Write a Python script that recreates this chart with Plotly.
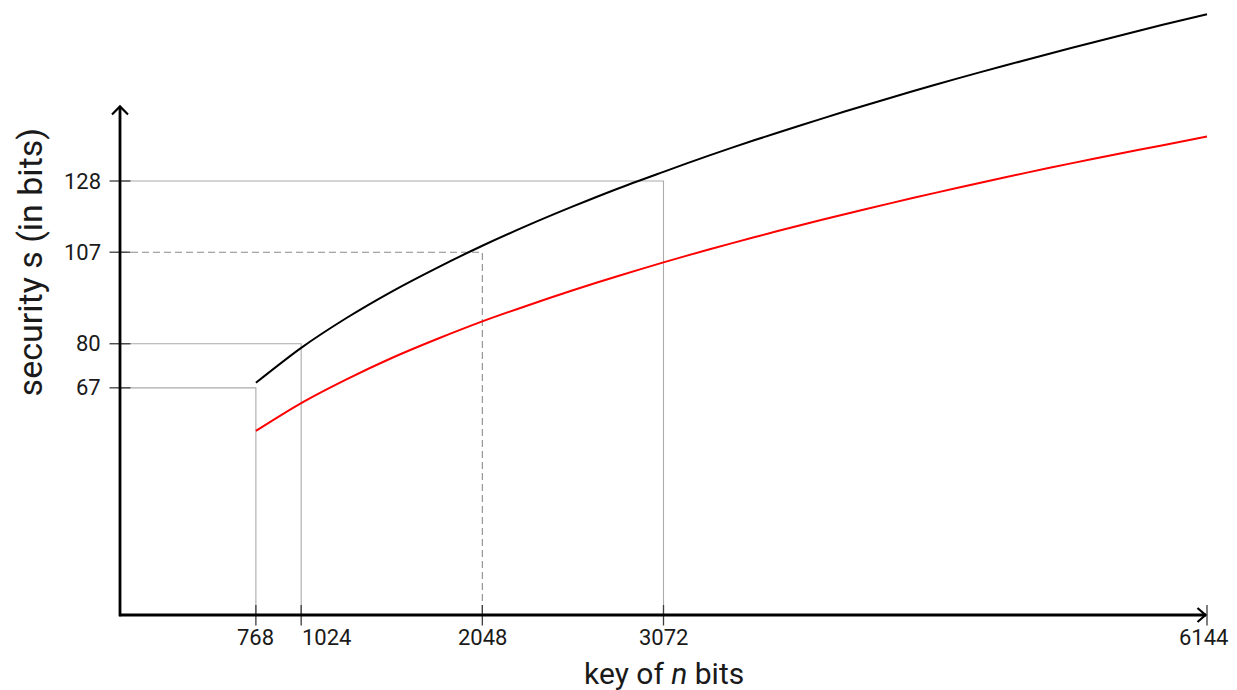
import plotly.graph_objects as go

# ---------------- data ----------------
key_bits = [768, 1024, 1280, 1536, 1792, 2048, 2304, 2560, 2816, 3072, 3328,
            3584, 3840, 4096, 4352, 4608, 4864, 5120, 5376, 5632, 5888, 6144]
security_black = [68.5, 78.8, 87.6, 95.4, 102.4, 108.9, 114.9, 120.5, 125.8, 130.7, 135.5,
                  140.0, 144.3, 148.5, 152.5, 156.4, 160.1, 163.7, 167.2, 170.6, 174.0, 177.2]
security_red = [54.3, 62.5, 69.5, 75.8, 81.4, 86.6, 91.3, 95.8, 100.0, 104.0, 107.8,
                111.4, 114.9, 118.2, 121.4, 124.5, 127.5, 130.4, 133.2, 135.9, 138.5, 141.1]

x_ticks = [768, 1024, 2048, 3072, 6144]
y_ticks = [67, 80, 107, 128]

guide_n = [768, 1024, 2048, 3072]
guide_s = [67, 80, 107, 128]
guide_dashed = [False, False, True, False]

X_MAX = 6144
Y_AXIS_TOP = 150

# tick-label placement (layout only)
x_tick_anchor = ["center", "left", "center", "center", "center"]
x_tick_shift = [0, -1, 0, 0, -4]

# ---------------- geometry (figure pixels; page adds an 8px body margin) ----------------
W, H = 1229, 682
X0_PX, X1_PX = 112, 1199      # pixel of n=0 and n=X_MAX
Y0_PX = 607                   # pixel of s=0
PPY = 3.3906                  # pixels per bit of security
PPX = (X1_PX - X0_PX) / X_MAX
ML, MR, MT, MB = 50, 4, 0, 42
x_range = [(ML - X0_PX) / PPX, (W - MR - X0_PX) / PPX]
y_range = [(Y0_PX - (H - MB)) / PPY, (Y0_PX - MT) / PPY]

FONT = "Roboto"
TXT = "#1a1a1a"
fig = go.Figure()

# guide lines
for n, s, d in zip(guide_n, guide_s, guide_dashed):
    fig.add_trace(go.Scatter(
        x=[0, n, n], y=[s, s, 0], mode="lines",
        line=dict(color="#8c8c8c" if d else "#aaaaaa", width=1.1,
                  dash="7px,4px" if d else "solid"),
        hoverinfo="skip", showlegend=False))

# curves
fig.add_trace(go.Scatter(x=key_bits, y=security_black, mode="lines",
                         line=dict(color="black", width=2.0, shape="spline", smoothing=0.8),
                         showlegend=False))
fig.add_trace(go.Scatter(x=key_bits, y=security_red, mode="lines",
                         line=dict(color="#ff0000", width=2.0, shape="spline", smoothing=0.8),
                         showlegend=False))

shapes = []
# ticks
tx = 10.5 / PPY
for n in x_ticks:
    shapes.append(dict(type="line", xref="x", yref="y", x0=n, x1=n, y0=-tx, y1=tx * 0.95,
                       line=dict(color="#3c3c3c", width=1.3)))
ty = 10.5 / PPX
for s in y_ticks:
    shapes.append(dict(type="line", xref="x", yref="y", x0=-ty, x1=ty, y0=s, y1=s,
                       line=dict(color="#3c3c3c", width=1.3)))
# axes
shapes.append(dict(type="line", xref="x", yref="y", x0=-1 / PPX, x1=X_MAX - 1 / PPX, y0=0, y1=0,
                   line=dict(color="black", width=2.8)))
shapes.append(dict(type="line", xref="x", yref="y", x0=0, x1=0, y0=-1.2 / PPY, y1=Y_AXIS_TOP,
                   line=dict(color="black", width=2.8)))
# arrow heads
ax_, ay_ = 8 / PPX, 7 / PPY
tipx = X_MAX - 1.5 / PPX
shapes.append(dict(type="path", xref="x", yref="y",
                   path=f"M {tipx - ax_} {ay_} L {tipx} 0 L {tipx - ax_} {-ay_}",
                   line=dict(color="black", width=2.2)))
bx, by = 8 / PPX, 8 / PPY
shapes.append(dict(type="path", xref="x", yref="y",
                   path=f"M {-bx} {Y_AXIS_TOP - by} L 0 {Y_AXIS_TOP} L {bx} {Y_AXIS_TOP - by}",
                   line=dict(color="black", width=2.2)))

annotations = []
for n, anc, sh in zip(x_ticks, x_tick_anchor, x_tick_shift):
    annotations.append(dict(x=n, y=0, xref="x", yref="y", text=str(n), showarrow=False,
                            xanchor=anc, yanchor="middle", yshift=-22, xshift=sh,
                            font=dict(family=FONT, size=22, color=TXT)))
for s in y_ticks:
    annotations.append(dict(x=0, y=s, xref="x", yref="y", text=str(s), showarrow=False,
                            xanchor="right", yanchor="middle", xshift=-17,
                            font=dict(family=FONT, size=22, color=TXT)))
annotations.append(dict(x=X_MAX / 2, y=0, xref="x", yref="y", text="key of <i>n</i> bits",
                        showarrow=False, xanchor="center", yanchor="middle", yshift=-58,
                        font=dict(family=FONT, size=30, color=TXT)))
annotations.append(dict(x=0, y=104, xref="paper", yref="y", text="security s (in bits)",
                        showarrow=False, xanchor="center", yanchor="middle", textangle=-90,
                        xshift=22 - ML, font=dict(family=FONT, size=34, color=TXT)))

fig.update_layout(
    width=W, height=H, margin=dict(l=ML, r=MR, t=MT, b=MB),
    paper_bgcolor="white", plot_bgcolor="white",
    xaxis=dict(range=x_range, visible=False, fixedrange=True),
    yaxis=dict(range=y_range, visible=False, fixedrange=True),
    shapes=shapes, annotations=annotations,
)
fig.write_html("out.html")
